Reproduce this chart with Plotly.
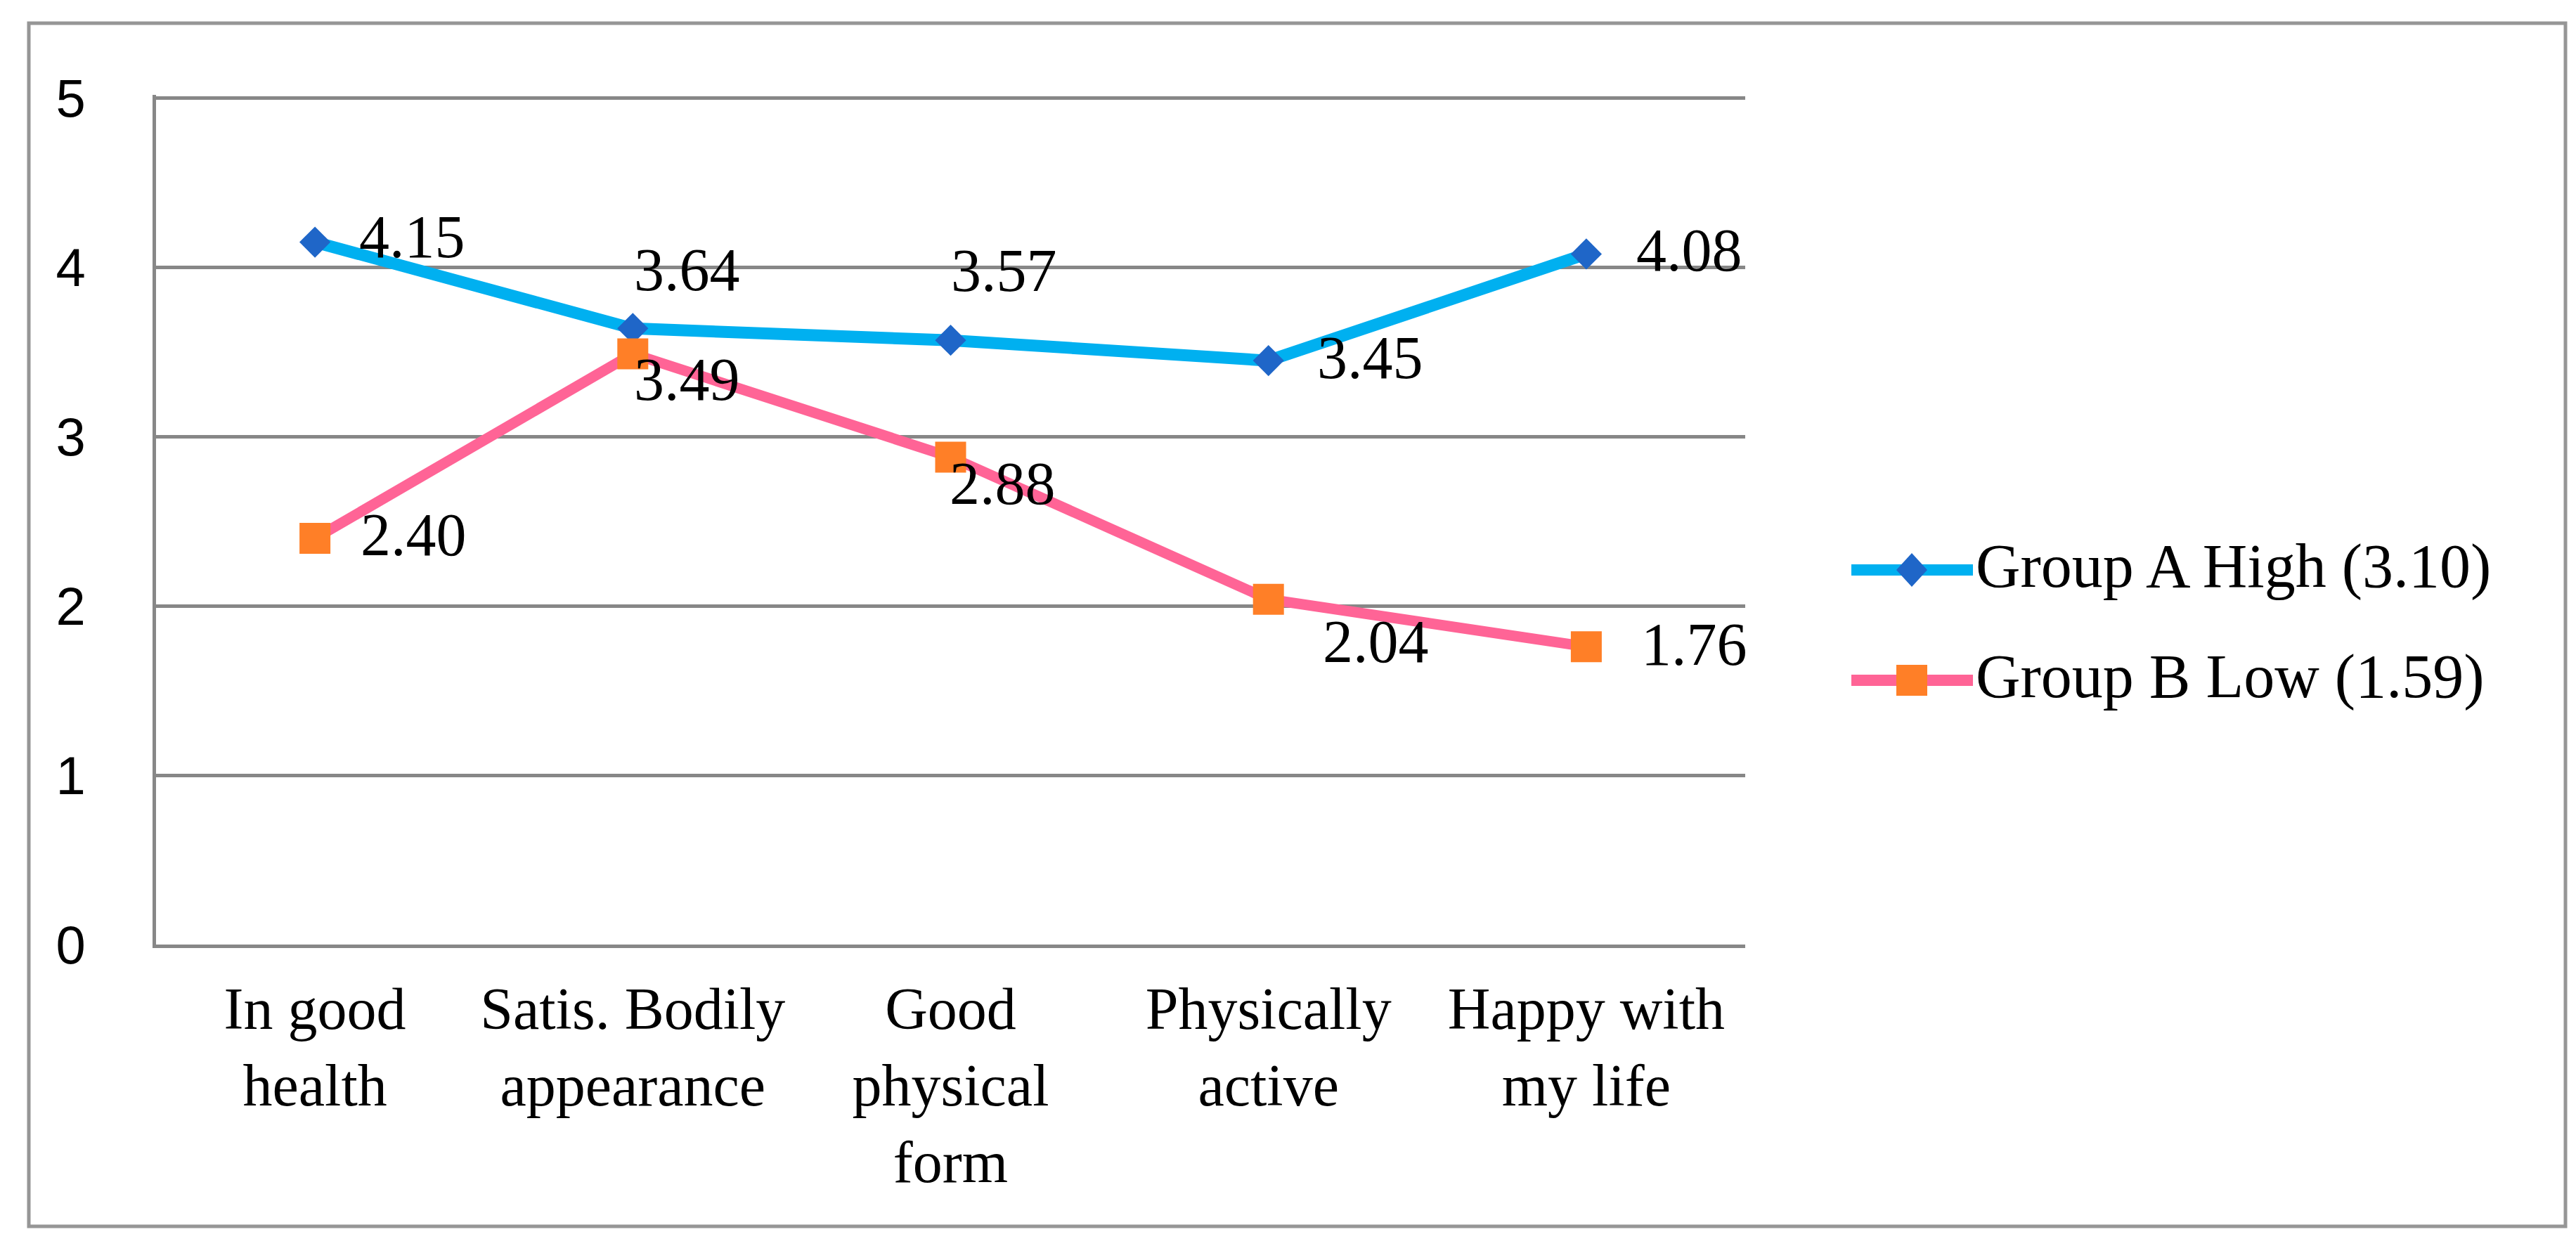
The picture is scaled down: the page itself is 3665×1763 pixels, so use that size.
import plotly.graph_objects as go

# chart data
categories = [
    "In good<br>health",
    "Satis. Bodily<br>appearance",
    "Good<br>physical<br>form",
    "Physically<br>active",
    "Happy with<br>my life",
]
group_a = [4.15, 3.64, 3.57, 3.45, 4.08]
group_b = [2.40, 3.49, 2.88, 2.04, 1.76]
series_names = ["Group A High (3.10)", "Group B Low (1.59)"]
y_ticks = [0, 1, 2, 3, 4, 5]

# label offsets from each marker (px right, px down)
offsets_a = [(61, -8), (0, -83), (-2, -99), (67, -4), (69, -5)]
offsets_b = [(63, -5), (0, 37), (-4, 38), (75, 60), (76, -3)]

W, H = 3665, 1763
Y_TOP = 5.02
L, R, T, B = 214, 1190, 127, 427
PW = W - L - R
PH = H - T - B


def px(x):
    return (x - L) / PW


def py(y):
    return (H - B - y) / PH


cyan = "rgb(0,176,240)"
blue = "rgb(31,102,200)"
pink = "rgb(255,100,150)"
orange = "rgb(255,127,39)"
grey = "rgb(135,135,135)"
serif = "Liberation Serif"

fig = go.Figure()
fig.add_trace(go.Scatter(
    x=categories, y=group_a, name=series_names[0], mode="lines+markers",
    line=dict(color=cyan, width=17),
    marker=dict(symbol="diamond", size=34, color=blue),
))
fig.add_trace(go.Scatter(
    x=categories, y=group_b, name=series_names[1], mode="lines+markers",
    line=dict(color=pink, width=15),
    marker=dict(symbol="square", size=44, color=orange),
))

annotations = []
for vals, offs in [(group_a, offsets_a), (group_b, offsets_b)]:
    for cat, v, (dx, dy) in zip(categories, vals, offs):
        annotations.append(dict(
            x=cat, y=v, xref="x", yref="y", text=f"{v:.2f}",
            xanchor="left", yanchor="middle", xshift=dx, yshift=-dy,
            showarrow=False, font=dict(family=serif, size=86, color="black"),
        ))

# legend drawn by hand so the line sample can be long
shapes = [dict(
    type="rect", xref="paper", yref="paper", layer="below",
    x0=px(33), x1=px(3642), y0=py(1737), y1=py(25),
    line=dict(color="rgb(150,150,150)", width=5),
)]
rows = [(803, cyan, blue, "diamond"), (960, pink, orange, "square")]
for (yy, lc, mc, sym), name in zip(rows, series_names):
    shapes.append(dict(
        type="line", xref="paper", yref="paper",
        x0=px(2626), x1=px(2799), y0=py(yy), y1=py(yy),
        line=dict(color=lc, width=16),
    ))
    if sym == "diamond":
        shapes.append(dict(
            type="path", xref="paper", yref="paper",
            xsizemode="pixel", ysizemode="pixel",
            xanchor=px(2712), yanchor=py(yy),
            path="M -22 0 L 0 24 L 22 0 L 0 -24 Z",
            fillcolor=mc, line=dict(width=0),
        ))
    else:
        shapes.append(dict(
            type="rect", xref="paper", yref="paper",
            xsizemode="pixel", ysizemode="pixel",
            xanchor=px(2712), yanchor=py(yy),
            x0=-22, x1=22, y0=-22, y1=22,
            fillcolor=mc, line=dict(width=0),
        ))
    annotations.append(dict(
        x=px(2801), y=py(yy - 6), xref="paper", yref="paper", text=name,
        xanchor="left", yanchor="middle", showarrow=False,
        font=dict(family=serif, size=88, color="black"),
    ))

fig.update_layout(
    width=W, height=H,
    margin=dict(l=L, r=R, t=T, b=B),
    paper_bgcolor="white", plot_bgcolor="white",
    showlegend=False,
    shapes=shapes, annotations=annotations,
    xaxis=dict(
        showline=True, linecolor=grey, linewidth=5, showgrid=False,
        ticks="", range=[-0.5, 4.5], ticklabelstandoff=14,
        tickfont=dict(family=serif, size=84, color="black"),
    ),
    yaxis=dict(
        range=[0, Y_TOP], tickvals=y_ticks, showgrid=True, gridcolor=grey,
        gridwidth=5, showline=True, linecolor=grey, linewidth=5,
        zeroline=False, ticks="", ticklabelstandoff=80,
        tickfont=dict(family="Liberation Sans", size=76, color="black"),
    ),
)

fig.write_html("out.html")
